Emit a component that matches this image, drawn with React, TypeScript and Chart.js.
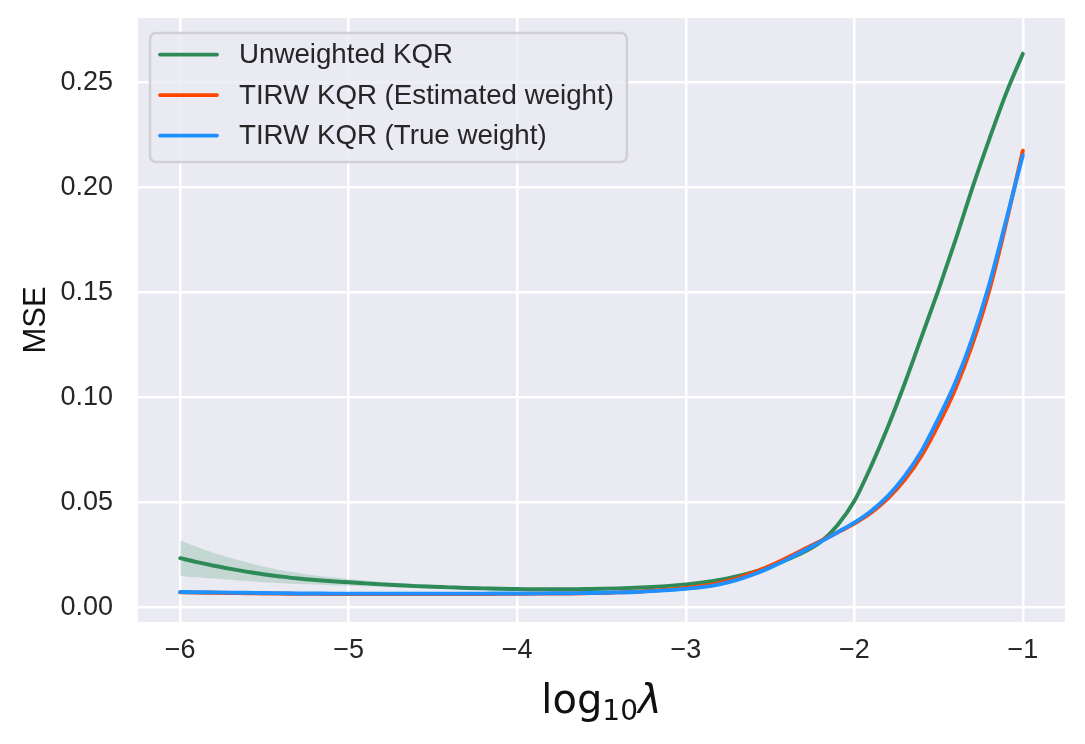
import React, { useEffect, useRef } from "react";
import { Chart, registerables } from "chart.js";

Chart.register(...registerables);

// log10(lambda) grid the curves were sampled on
const logLambda = [
  -6.0, -5.9, -5.8, -5.7, -5.6, -5.5, -5.4, -5.3, -5.2, -5.1,
  -5.0, -4.9, -4.8, -4.7, -4.6, -4.5, -4.4, -4.3, -4.2, -4.1,
  -4.0, -3.9, -3.8, -3.7, -3.6, -3.5, -3.4, -3.3, -3.2, -3.1,
  -3.0, -2.9, -2.8, -2.7, -2.6, -2.5, -2.4, -2.3, -2.2, -2.1,
  -2.0, -1.9, -1.8, -1.7, -1.6, -1.5, -1.4, -1.3, -1.2, -1.1,
  -1.0,
];

const unweighted = [
  0.0233, 0.0214, 0.0197, 0.0182, 0.0168, 0.0155, 0.0145, 0.0136, 0.0129, 0.0123,
  0.0118, 0.0113, 0.0108, 0.0104, 0.01, 0.0097, 0.0094, 0.0091, 0.0089, 0.0087,
  0.0086, 0.0085, 0.0085, 0.0085, 0.0086, 0.0087, 0.0089, 0.0092, 0.0096, 0.0101,
  0.0108, 0.0117, 0.0129, 0.0146, 0.0167, 0.0192, 0.0225, 0.0262, 0.031, 0.039,
  0.0505, 0.0672, 0.086, 0.1067, 0.1289, 0.1512, 0.1747, 0.1995, 0.2226, 0.2445,
  0.2635,
];

const estimatedWeight = [
  0.007, 0.0069, 0.0068, 0.0067, 0.0066, 0.0065, 0.0064, 0.0063, 0.0063, 0.0062,
  0.0062, 0.0062, 0.0062, 0.0062, 0.0062, 0.0062, 0.0062, 0.0062, 0.0062, 0.0063,
  0.0063, 0.0064, 0.0064, 0.0065, 0.0066, 0.0067, 0.007, 0.0073, 0.0078, 0.0084,
  0.0091, 0.0101, 0.0115, 0.0136, 0.0164, 0.0197, 0.0235, 0.0275, 0.0315, 0.0355,
  0.0398, 0.045, 0.0518, 0.0607, 0.0722, 0.087, 0.104, 0.125, 0.1505, 0.1825,
  0.2173,
];

const trueWeight = [
  0.0072, 0.0071, 0.007, 0.0069, 0.0068, 0.0067, 0.0066, 0.0065, 0.0065, 0.0064,
  0.0064, 0.0064, 0.0064, 0.0064, 0.0064, 0.0064, 0.0064, 0.0064, 0.0064, 0.0065,
  0.0065, 0.0065, 0.0066, 0.0066, 0.0067, 0.0068, 0.007, 0.0072, 0.0076, 0.0081,
  0.0087, 0.0095, 0.0108, 0.0128, 0.0155, 0.0188, 0.0226, 0.0268, 0.0311, 0.0356,
  0.0402, 0.0458, 0.053, 0.0625, 0.0745, 0.09, 0.107, 0.128, 0.1535, 0.184,
  0.2152,
];

// half width of the shaded bands
const unweightedSpread = [
  0.0085, 0.0072, 0.0061, 0.0052, 0.0044, 0.0037, 0.0031, 0.0026, 0.0022, 0.0019,
  0.0016, 0.0014, 0.0012, 0.0011, 0.001, 0.0009, 0.0008, 0.0008, 0.0008, 0.0008,
  0.0008, 0.0007, 0.0007, 0.0007, 0.0007, 0.0007, 0.0007, 0.0007, 0.0007, 0.0007,
  0.0007, 0.0007, 0.0007, 0.0008, 0.0008, 0.0008, 0.0008, 0.0009, 0.0009, 0.001,
  0.001, 0.0011, 0.0012, 0.0013, 0.0014, 0.0015, 0.0016, 0.0017, 0.0019, 0.002,
  0.0022,
];

const tirwSpread = [
  0.0004, 0.0004, 0.0004, 0.0004, 0.0004, 0.0004, 0.0004, 0.0004, 0.0004, 0.0004,
  0.0004, 0.0004, 0.0004, 0.0004, 0.0004, 0.0004, 0.0004, 0.0004, 0.0004, 0.0004,
  0.0004, 0.0004, 0.0004, 0.0004, 0.0004, 0.0004, 0.0004, 0.0004, 0.0004, 0.0004,
  0.0005, 0.0005, 0.0005, 0.0005, 0.0005, 0.0006, 0.0006, 0.0006, 0.0007, 0.0007,
  0.0008, 0.0008, 0.0009, 0.0009, 0.001, 0.001, 0.0011, 0.0012, 0.0013, 0.0014,
  0.0015,
];

const xTickValues = [-6, -5, -4, -3, -2, -1];
const xTickLabels = ["\u22126", "\u22125", "\u22124", "\u22123", "\u22122", "\u22121"];
const yTickValues = [0, 0.05, 0.1, 0.15, 0.2, 0.25];
const yTickLabels = ["0.00", "0.05", "0.10", "0.15", "0.20", "0.25"];

const seriesLabels = [
  "Unweighted KQR",
  "TIRW KQR (Estimated weight)",
  "TIRW KQR (True weight)",
];
const seriesColors = ["#2e8b57", "#ff4500", "#1e90ff"];
const bandColors = [
  "rgba(46, 139, 87, 0.2)",
  "rgba(255, 69, 0, 0.2)",
  "rgba(30, 144, 255, 0.2)",
];

const TEXT = "#262626";
const SANS = '"Liberation Sans", Arial, sans-serif';

const pts = (ys: number[]) => logLambda.map((x, i) => ({ x, y: ys[i] }));
const shift = (ys: number[], d: number[], s: number) =>
  logLambda.map((x, i) => ({ x, y: ys[i] + s * d[i] }));

// legend box drawn like matplotlib's, top-left inside the axes
const legendPlugin = {
  id: "mplLegend",
  afterDraw(chart: any) {
    const { ctx, chartArea } = chart;
    ctx.save();
    ctx.font = `27.7px ${SANS}`;
    const maxW = Math.max(...seriesLabels.map((t) => ctx.measureText(t).width));
    const left = chartArea.left + 12;
    const top = chartArea.top + 15;
    const w = 89 + maxW + 13;
    const h = 129;
    ctx.beginPath();
    ctx.roundRect(left, top, w, h, 6);
    ctx.fillStyle = "rgba(234, 234, 242, 0.8)";
    ctx.fill();
    ctx.lineWidth = 2.5;
    ctx.strokeStyle = "#d0d0d4";
    ctx.stroke();
    seriesLabels.forEach((label, i) => {
      const y = top + 21.5 + i * 40.5;
      ctx.beginPath();
      ctx.moveTo(left + 10, y);
      ctx.lineTo(left + 67, y);
      ctx.lineWidth = 3.75;
      ctx.lineCap = "round";
      ctx.strokeStyle = seriesColors[i];
      ctx.stroke();
      ctx.fillStyle = TEXT;
      ctx.textBaseline = "middle";
      ctx.textAlign = "left";
      ctx.fillText(label, left + 89, y + 1);
    });
    ctx.restore();
  },
};

// x label: log_{10} lambda, mathtext style
const xTitlePlugin = {
  id: "xTitle",
  afterDraw(chart: any) {
    const { ctx, chartArea } = chart;
    ctx.save();
    ctx.fillStyle = "#111111";
    ctx.textBaseline = "alphabetic";
    ctx.textAlign = "left";
    const big = '40px "DejaVu Sans"';
    const small = '28px "DejaVu Sans"';
    const ital = 'oblique 40px "DejaVu Sans"';
    ctx.font = big;
    const w1 = ctx.measureText("log").width;
    ctx.font = small;
    const w2 = ctx.measureText("10").width;
    ctx.font = ital;
    const w3 = ctx.measureText("\u03bb").width;
    let x = (chartArea.left + chartArea.right) / 2 - (w1 + w2 + w3) / 2;
    const base = chart.height - 31;
    ctx.font = big;
    ctx.fillText("log", x, base);
    x += w1;
    ctx.font = small;
    ctx.fillText("10", x, base + 7);
    x += w2;
    ctx.font = ital;
    ctx.fillText("\u03bb", x, base);
    ctx.restore();
  },
};

const bgPlugin = {
  id: "axesBg",
  beforeDraw(chart: any) {
    const { ctx, chartArea, width, height } = chart;
    ctx.save();
    ctx.fillStyle = "#ffffff";
    ctx.fillRect(0, 0, width, height);
    ctx.fillStyle = "#eaeaf2";
    ctx.fillRect(
      chartArea.left,
      chartArea.top,
      chartArea.right - chartArea.left,
      chartArea.bottom - chartArea.top
    );
    ctx.restore();
  },
};

export default function App() {
  const chartRef = useRef<HTMLCanvasElement | null>(null);
  const chartInstanceRef = useRef<Chart<"line"> | null>(null);

  useEffect(() => {
    if (!chartRef.current) return;
    const ctx = chartRef.current.getContext("2d");
    if (!ctx) return;

    if (chartInstanceRef.current) {
      chartInstanceRef.current.destroy();
    }

    const series = [unweighted, estimatedWeight, trueWeight];
    const spreads = [unweightedSpread, tirwSpread, tirwSpread];

    const bandSets: any[] = [];
    series.forEach((ys, i) => {
      bandSets.push({
        label: seriesLabels[i] + " low",
        data: shift(ys, spreads[i], -1),
        borderWidth: 0,
        pointRadius: 0,
        fill: false,
        cubicInterpolationMode: "monotone",
        order: 12 - i,
      });
      bandSets.push({
        label: seriesLabels[i] + " high",
        data: shift(ys, spreads[i], 1),
        borderWidth: 0,
        pointRadius: 0,
        backgroundColor: bandColors[i],
        fill: i * 2,
        cubicInterpolationMode: "monotone",
        order: 12 - i,
      });
    });

    const lineSets = series.map((ys, i) => ({
      label: seriesLabels[i],
      data: pts(ys),
      borderColor: seriesColors[i],
      borderWidth: 3.9,
      borderCapStyle: "round" as const,
      borderJoinStyle: "round" as const,
      pointRadius: 0,
      fill: false,
      cubicInterpolationMode: "monotone" as const,
      order: 3 - i,
    }));

    chartInstanceRef.current = new Chart(ctx, {
      type: "line",
      data: { datasets: [...bandSets, ...lineSets] },
      options: {
        responsive: true,
        maintainAspectRatio: false,
        animation: false,
        layout: { padding: { top: 18, right: 20, left: 0, bottom: 0 } },
        plugins: {
          legend: { display: false },
          tooltip: { enabled: false },
        },
        scales: {
          x: {
            type: "linear",
            min: -6.25,
            max: -0.75,
            afterBuildTicks: (axis: any) => {
              axis.ticks = xTickValues.map((v) => ({ value: v }));
            },
            afterFit: (axis: any) => {
              axis.height = 122;
              axis.paddingLeft = 0;
              axis.paddingRight = 0;
            },
            ticks: {
              callback: (v: any) => xTickLabels[xTickValues.indexOf(Number(v))] ?? "",
              color: TEXT,
              font: { family: SANS, size: 27 },
              padding: 12,
              maxRotation: 0,
            },
            grid: { color: "#ffffff", lineWidth: 2.5, drawTicks: false },
            border: { display: false },
          },
          y: {
            type: "linear",
            min: -0.0071,
            max: 0.2805,
            afterBuildTicks: (axis: any) => {
              axis.ticks = yTickValues.map((v) => ({ value: v }));
            },
            afterFit: (axis: any) => {
              axis.width = 138;
              axis.paddingTop = 0;
              axis.paddingBottom = 0;
            },
            ticks: {
              callback: (v: any) => {
                const i = yTickValues.findIndex((t) => Math.abs(t - Number(v)) < 1e-9);
                return i >= 0 ? yTickLabels[i] : "";
              },
              color: TEXT,
              font: { family: SANS, size: 27 },
              padding: 25,
            },
            grid: { color: "#ffffff", lineWidth: 2.5, drawTicks: false },
            border: { display: false },
            title: {
              display: true,
              text: "MSE",
              color: "#111111",
              font: { family: SANS, size: 31 },
              padding: { top: 18, bottom: 0 },
            },
          },
        },
      },
      plugins: [bgPlugin, legendPlugin, xTitlePlugin],
    });

    return () => {
      if (chartInstanceRef.current) {
        chartInstanceRef.current.destroy();
        chartInstanceRef.current = null;
      }
    };
  }, []);

  return (
    <div
      style={{
        position: "absolute",
        left: 0,
        top: 0,
        width: "1085px",
        height: "744px",
        background: "#ffffff",
      }}
    >
      <canvas ref={chartRef} />
    </div>
  );
}
